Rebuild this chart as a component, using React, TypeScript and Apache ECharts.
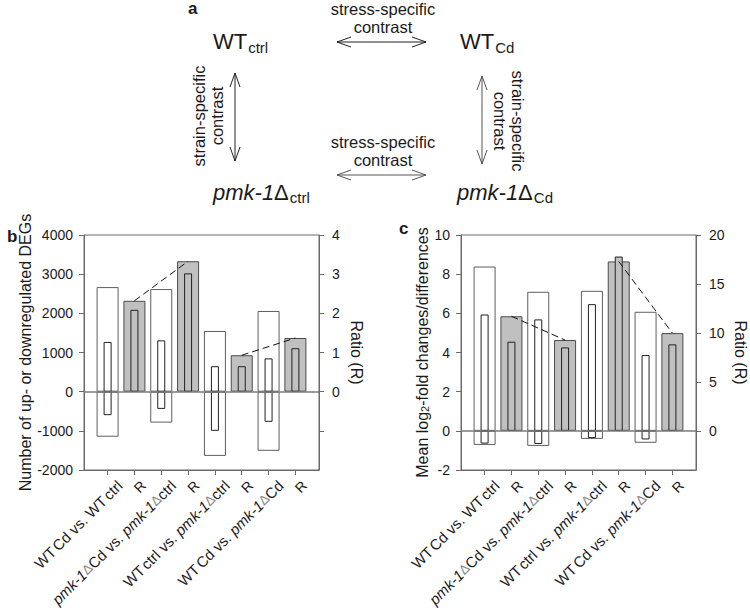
import React, { useEffect, useRef } from 'react';
import * as echarts from 'echarts';

// ---------- data ----------
const xPositions = [1, 2, 3, 4, 5, 6, 7, 8];
const contrastPositions = [1, 3, 5, 7];
const ratioPositions = [2, 4, 6, 8];

const contrastLabels = [
  '{n|WT}{s|Cd}{n| vs. WT}{s|ctrl}',
  '{i|pmk-1}{d|Δ}{n|Cd vs. }{i|pmk-1}{d|Δ}{n|ctrl}',
  '{n|WT}{s|ctrl}{n| vs. }{i|pmk-1}{d|Δ}{n|ctrl}',
  '{n|WT}{s|Cd}{n| vs. }{i|pmk-1}{d|Δ}{n|Cd}',
];
const ratioLabel = '{r|R}';

// panel b : numbers of DEGs
const degOuterUp = [2670, 2620, 1550, 2060];
const degOuterDown = [-1150, -790, -1640, -1510];
const degInnerUp = [1270, 1310, 650, 850];
const degInnerDown = [-600, -440, -1000, -770];
const degRatioOuter = [2.32, 3.33, 0.93, 1.37];
const degRatioInner = [2.09, 3.02, 0.65, 1.11];
const degRatioTicks = [-1, 0, 1, 2, 3, 4];
const degRatioLabels = [0, 1, 2, 3, 4];

// panel c : mean log2 fold changes
const lfcOuterUp = [8.39, 7.1, 7.15, 6.08];
const lfcOuterDown = [-0.72, -0.77, -0.41, -0.61];
const lfcInnerUp = [5.94, 5.69, 6.47, 3.87];
const lfcInnerDown = [-0.65, -0.67, -0.37, -0.44];
const lfcRatioOuter = [11.7, 9.27, 17.3, 9.98];
const lfcRatioInner = [9.1, 8.52, 17.8, 8.83];
const lfcRatioTicks = [0, 5, 10, 15, 20];

// ---------- style ----------
const FONT = '"Liberation Sans", Arial, Helvetica, sans-serif';
const AXIS = '#6a6a6a';
const TXT = '#1a1a1a';
const GRAY = '#c0c0c0';
const X_MIN = 0.12;
const X_MAX = 8.88;
const LONG_SHIFT = 0.45;
const R_SHIFT = 0.33;
const TICK_FS = 14;
const XLAB_FS = 15;

const pair = (xs: number[], ys: number[]) => xs.map((x, i) => [x, ys[i]]);

const longLabelMap: Record<string, string> = {};
contrastPositions.forEach((p, i) => { longLabelMap[(p + LONG_SHIFT).toFixed(2)] = contrastLabels[i]; });
const longLabelValues = contrastPositions.map((p) => p + LONG_SHIFT);
const ratioLabelValues = ratioPositions.map((p) => p + R_SHIFT);

const richX = {
  n: { fontSize: XLAB_FS, color: TXT, fontFamily: FONT },
  i: { fontSize: XLAB_FS, color: TXT, fontFamily: FONT, fontStyle: 'italic' },
  d: { fontSize: 13.5, color: '#8a8a8a', fontFamily: FONT },
  s: { fontSize: XLAB_FS, color: TXT, fontFamily: FONT, padding: [0, 0, 0, 2] },
  r: { fontSize: 14, color: TXT, fontFamily: FONT },
};

function xAxisMain(gridIndex: number) {
  return {
    type: 'value', gridIndex, min: X_MIN, max: X_MAX, position: 'bottom',
    axisLine: { show: true, onZero: false, lineStyle: { color: AXIS, width: 1 } },
    axisTick: { show: true, customValues: xPositions, length: 5, lineStyle: { color: AXIS } },
    axisLabel: {
      show: true, customValues: longLabelValues, rotate: 45, margin: 13,
      formatter: (v: number) => longLabelMap[v.toFixed(2)] || '',
      rich: richX, fontSize: XLAB_FS, color: TXT, fontFamily: FONT,
    },
    splitLine: { show: false },
  };
}
function xAxisInner(gridIndex: number) {
  return {
    type: 'value', gridIndex, min: X_MIN, max: X_MAX, position: 'bottom',
    axisLine: { show: false, onZero: false },
    axisTick: { show: false },
    axisLabel: {
      show: true, customValues: ratioLabelValues, rotate: 45, margin: 13,
      formatter: () => ratioLabel,
      rich: richX, fontSize: 14, color: TXT, fontFamily: FONT,
    },
    splitLine: { show: false },
  };
}

function yAxis(gridIndex: number, extra: any) {
  return {
    type: 'value', gridIndex,
    nameLocation: 'middle',
    nameTextStyle: { fontSize: 16, color: TXT, fontFamily: FONT },
    axisLine: { show: true, onZero: false, lineStyle: { color: AXIS, width: 1 } },
    axisTick: { show: true, length: 5, lineStyle: { color: AXIS } },
    axisLabel: { margin: 11, fontSize: TICK_FS, color: TXT, fontFamily: FONT, formatter: (v: number) => String(v) },
    splitLine: { show: false },
    ...extra,
  };
}

const zeroLine = {
  silent: true, symbol: ['none', 'none'],
  label: { show: false },
  lineStyle: { color: '#7a7a7a', width: 1.5, type: 'solid' },
  data: [{ yAxis: 0 }],
};

function panelSeries(
  xo: number, xi: number, yl: number, yr: number,
  oUp: number[], oDown: number[], iUp: number[], iDown: number[], rO: number[], rI: number[],
) {
  const outer = { color: '#ffffff', borderColor: '#5e5e5e', borderWidth: 1 };
  const inner = { color: '#ffffff', borderColor: '#222222', borderWidth: 1 };
  return [
    { type: 'bar', xAxisIndex: xo, yAxisIndex: yl, barWidth: 22, barGap: '-100%', data: pair(contrastPositions, oUp), itemStyle: outer, markLine: zeroLine },
    { type: 'bar', xAxisIndex: xo, yAxisIndex: yl, barWidth: 22, barGap: '-100%', data: pair(contrastPositions, oDown), itemStyle: outer },
    { type: 'bar', xAxisIndex: xo, yAxisIndex: yr, barWidth: 22, barGap: '-100%', data: pair(ratioPositions, rO), itemStyle: { color: GRAY, borderColor: '#4a4a4a', borderWidth: 1 } },
    { type: 'bar', xAxisIndex: xi, yAxisIndex: yl, barWidth: 8, barGap: '-100%', data: pair(contrastPositions, iUp), itemStyle: inner },
    { type: 'bar', xAxisIndex: xi, yAxisIndex: yl, barWidth: 8, barGap: '-100%', data: pair(contrastPositions, iDown), itemStyle: inner },
    { type: 'bar', xAxisIndex: xi, yAxisIndex: yr, barWidth: 8, barGap: '-100%', data: pair(ratioPositions, rI), itemStyle: { color: GRAY, borderColor: '#222222', borderWidth: 1 } },
    { type: 'line', xAxisIndex: xo, yAxisIndex: yr, symbol: 'none', z: 5, data: pair(ratioPositions.slice(0, 2), rO.slice(0, 2)), lineStyle: { color: '#111', width: 1, type: [7, 4] } },
    { type: 'line', xAxisIndex: xo, yAxisIndex: yr, symbol: 'none', z: 5, data: pair(ratioPositions.slice(2, 4), rO.slice(2, 4)), lineStyle: { color: '#111', width: 1, type: [7, 4] } },
  ];
}

// ---------- panel a graphics ----------
const LINE = { stroke: '#222', lineWidth: 1, fill: 'none' };
const LINE2 = { stroke: '#555', lineWidth: 1, fill: 'none' };
function arrowH(x1: number, x2: number, y: number, st: any) {
  return [
    { type: 'line', shape: { x1, y1: y, x2, y2: y }, style: st },
    { type: 'polyline', shape: { points: [[x1 + 14, y - 5], [x1, y], [x1 + 14, y + 5]] }, style: st },
    { type: 'polyline', shape: { points: [[x2 - 14, y - 5], [x2, y], [x2 - 14, y + 5]] }, style: st },
  ];
}
function arrowV(x: number, y1: number, y2: number, st: any) {
  return [
    { type: 'line', shape: { x1: x, y1, x2: x, y2 }, style: st },
    { type: 'polyline', shape: { points: [[x - 5, y1 + 14], [x, y1], [x + 5, y1 + 14]] }, style: st },
    { type: 'polyline', shape: { points: [[x - 5, y2 - 14], [x, y2], [x + 5, y2 - 14]] }, style: st },
  ];
}
function plainText(text: string, x: number, y: number, opts: any = {}) {
  const { rotation, ...st } = opts;
  return {
    type: 'text', x, y, rotation: rotation || 0,
    style: {
      text, fontSize: 16.5, fontFamily: FONT, fill: TXT, lineHeight: 18,
      textAlign: 'center', textVerticalAlign: 'middle', ...st,
    },
  };
}
const richA = {
  m: { fontSize: 22, lineHeight: 24, verticalAlign: 'top', fontFamily: FONT, fill: TXT, color: TXT },
  i: { fontSize: 22, lineHeight: 24, verticalAlign: 'top', fontFamily: FONT, fontStyle: 'italic', fill: TXT, color: TXT },
  s: { fontSize: 15, lineHeight: 15, verticalAlign: 'bottom', padding: [11, 0, 0, 1], fontFamily: FONT, fill: TXT, color: TXT },
};
function condText(text: string, x: number, y: number) {
  return {
    type: 'text', x, y,
    style: { text, rich: richA, fontFamily: FONT, fill: TXT, textAlign: 'left', textVerticalAlign: 'top' },
  };
}

const graphics: any[] = [
  plainText('a', 188, 8, { fontWeight: 'bold', fontSize: 17, textAlign: 'left' }),
  plainText('b', 7, 236, { fontWeight: 'bold', fontSize: 17, textAlign: 'left' }),
  plainText('c', 399, 228, { fontWeight: 'bold', fontSize: 17, textAlign: 'left' }),
  plainText('stress-specific\ncontrast', 383, 18),
  plainText('stress-specific\ncontrast', 383, 151),
  plainText('strain-specific\ncontrast', 207.5, 116, { rotation: Math.PI / 2 }),
  plainText('strain-specific\ncontrast', 509, 121, { rotation: -Math.PI / 2 }),
  ...arrowH(337, 426, 42, LINE),
  ...arrowH(337, 426, 175, LINE2),
  ...arrowV(235, 73, 161, LINE),
  ...arrowV(482, 76, 164, LINE2),
  condText('{m|WT}{s|ctrl}', 213, 30.5),
  condText('{m|WT}{s|Cd}', 460, 30.5),
  condText('{i|pmk-1}{m|Δ}{s|ctrl}', 213, 181),
  condText('{i|pmk-1}{m|Δ}{s|Cd}', 457, 181),
];

const gridBase = { top: 235, width: 235, height: 235, show: true, borderColor: AXIS, borderWidth: 1, backgroundColor: 'transparent', containLabel: false, outerBoundsMode: 'none' };

const option: any = {
  animation: false,
  backgroundColor: '#ffffff',
  textStyle: { fontFamily: FONT },
  grid: [
    { ...gridBase, left: 84 },
    { ...gridBase, left: 461 },
  ],
  xAxis: [xAxisMain(0), xAxisInner(0), xAxisMain(1), xAxisInner(1)],
  yAxis: [
    yAxis(0, { min: -2000, max: 4000, interval: 1000, position: 'left', name: 'Number of up- or downregulated DEGs', nameGap: 47 }),
    yAxis(0, {
      min: -2, max: 4, position: 'right', name: 'Ratio (R)', nameGap: 29, nameRotate: -90,
      axisTick: { show: true, length: 5, customValues: degRatioTicks, lineStyle: { color: AXIS } },
      axisLabel: { margin: 13, fontSize: TICK_FS, color: TXT, fontFamily: FONT, customValues: degRatioLabels, formatter: (v: number) => String(v) },
    }),
    yAxis(1, {
      min: -2, max: 10, interval: 2, position: 'left', nameGap: 31,
      name: '{n|Mean log}{s|2}{n|-fold changes/differences}',
      nameTextStyle: {
        fontSize: 16, color: TXT, fontFamily: FONT,
        rich: {
          n: { fontSize: 16, lineHeight: 16, verticalAlign: 'top', color: TXT, fontFamily: FONT },
          s: { fontSize: 11, lineHeight: 11, verticalAlign: 'bottom', padding: [8, 0, 0, 0], color: TXT, fontFamily: FONT },
        },
      },
    }),
    yAxis(1, {
      min: -4, max: 20, position: 'right', name: 'Ratio (R)', nameGap: 36, nameRotate: -90,
      axisTick: { show: true, length: 5, customValues: lfcRatioTicks, lineStyle: { color: AXIS } },
      axisLabel: { margin: 13, fontSize: TICK_FS, color: TXT, fontFamily: FONT, customValues: lfcRatioTicks, formatter: (v: number) => String(v) },
    }),
  ],
  series: [
    ...panelSeries(0, 1, 0, 1, degOuterUp, degOuterDown, degInnerUp, degInnerDown, degRatioOuter, degRatioInner),
    ...panelSeries(2, 3, 2, 3, lfcOuterUp, lfcOuterDown, lfcInnerUp, lfcInnerDown, lfcRatioOuter, lfcRatioInner),
  ],
  graphic: { elements: graphics },
};

export default function App() {
  const ref = useRef<HTMLDivElement>(null);
  useEffect(() => {
    document.body.style.margin = '0';
    const chart = echarts.init(ref.current!, null, { renderer: 'svg' });
    chart.setOption(option);
    return () => chart.dispose();
  }, []);
  return <div ref={ref} style={{ width: 750, height: 612 }} />;
}
